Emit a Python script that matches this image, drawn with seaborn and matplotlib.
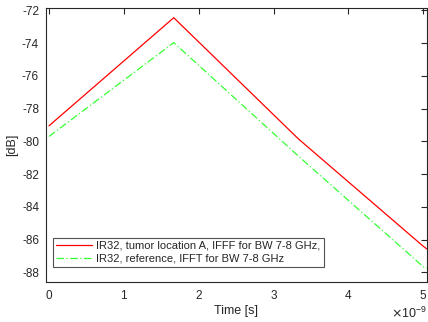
import numpy as np
import pandas as pd
import matplotlib
matplotlib.use("Agg")
import matplotlib.pyplot as plt
import seaborn as sns
from matplotlib.ticker import ScalarFormatter

# data (time in seconds, level in dB)
time_s = [0.0, 1.667e-9, 3.333e-9, 5.0e-9, 5.05e-9]
tumor_db = [-79.05, -72.45, -79.85, -86.40, -86.57]
reference_db = [-79.70, -73.97, -80.90, -87.65, -87.75]

label_tumor = "IR32, tumor location A, IFFF for BW 7-8 GHz,"
label_ref = "IR32, reference, IFFT for BW 7-8 GHz"

df = pd.DataFrame({
    "time": time_s * 2,
    "db": tumor_db + reference_db,
    "series": [label_tumor] * len(time_s) + [label_ref] * len(time_s),
})

sns.set_style("white")
plt.rcParams["font.family"] = ["Liberation Sans", "DejaVu Sans"]
plt.rcParams["font.size"] = 8.5
plt.rcParams["axes.unicode_minus"] = False

fig = plt.figure(figsize=(4.28, 3.22), dpi=100)
ax = fig.add_axes([0.1075, 0.124, 0.89, 0.851])

sns.lineplot(data=df, x="time", y="db", hue="series", style="series",
             palette={label_tumor: "#ff0000", label_ref: "#33ff33"},
             dashes={label_tumor: "", label_ref: (6, 2, 1, 2)},
             linewidth=0.9, ax=ax, sort=False)

ax.set_xlim(-0.04e-9, 5.05e-9)
ax.set_ylim(-88.59, -71.86)
ax.set_xticks([0, 1e-9, 2e-9, 3e-9, 4e-9, 5e-9])
ax.set_yticks(np.arange(-88, -71, 2))

fmt = ScalarFormatter(useMathText=True)
fmt.set_powerlimits((0, 0))
ax.xaxis.set_major_formatter(fmt)
ax.xaxis.get_offset_text().set_color("#444444")
ax.xaxis.get_offset_text().set_fontsize(9)

ax.tick_params(direction="in", top=True, right=True, length=4, width=0.8,
               labelsize=8.5, labelcolor="#262626", pad=5)
for sp in ax.spines.values():
    sp.set_color("#262626")
    sp.set_linewidth(0.8)

ax.set_xlabel("Time [s]", fontsize=9, color="#262626", labelpad=2)
ax.set_ylabel("[dB]", fontsize=9, color="#262626", labelpad=3)

leg = ax.legend(loc="lower left", bbox_to_anchor=(0.018, 0.055), fontsize=8,
                frameon=True, fancybox=False, handlelength=3.2,
                borderpad=0.3, labelspacing=0.25, handletextpad=0.4,
                borderaxespad=0)
leg.get_frame().set_edgecolor("#262626")
leg.get_frame().set_linewidth(0.8)

fig.savefig("out.png", dpi=100)
